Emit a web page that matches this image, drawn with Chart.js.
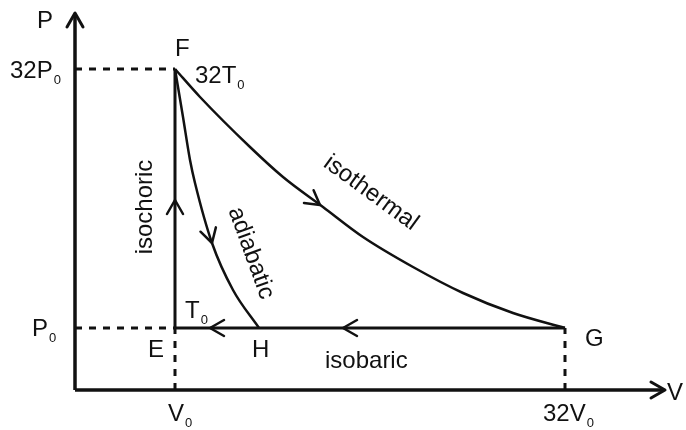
<!DOCTYPE html>
<html lang="en">
  <head>
    <meta charset="UTF-8" />
    <title>Ciclo P-V</title>
    <style>
      html, body { margin: 0; padding: 0; background: #fff; }
      canvas { display: block; }
    </style>
  </head>

  <body>
    <canvas id="pv-chart" width="686" height="430"></canvas>
    <script src="https://cdn.jsdelivr.net/npm/chart.js"></script>

    <script>
      // diagram units, counted from the corner of the axes
      const isochoricV = [100, 100]
      const isochoricP = [62, 321]
      const isothermalV = [100, 125, 175, 208, 248, 288, 338, 388, 438, 490]
      const isothermalP = [321, 293, 243, 213, 183, 153, 123, 97, 77, 62]
      const adiabaticV = [100, 108, 115, 120, 137, 158, 184]
      const adiabaticP = [321, 273, 230, 207, 147, 100, 62]
      const isobaricV = [490, 184, 100]
      const isobaricP = [62, 62, 62]

      const vTickValues = [100, 490]
      const vTickLabels = ['V', '32V']
      const pTickValues = [321, 62]
      const pTickLabels = ['32P', 'P']

      const pointNames = ['F', 'E', 'H', 'G']
      const pointV = [100, 100, 184, 490]
      const pointP = [321, 62, 62, 62]

      const toPts = (xs, ys) => xs.map((x, i) => ({ x: x, y: ys[i] }))
      const ink = '#111'
      const font = (size) => size + 'px "Liberation Sans", Arial, sans-serif'

      const line = (pts, opts) => Object.assign({
        data: pts,
        showLine: true,
        borderColor: ink,
        borderWidth: 3,
        pointRadius: 0,
        fill: false,
      }, opts)

      const chevron = (ctx, x, y, dx, dy) => {
        const len = Math.hypot(dx, dy)
        const ux = dx / len, uy = dy / len
        const back = 14, side = 8
        ctx.beginPath()
        ctx.moveTo(x - ux * back - uy * side, y - uy * back + ux * side)
        ctx.lineTo(x, y)
        ctx.lineTo(x - ux * back + uy * side, y - uy * back - ux * side)
        ctx.stroke()
      }

      const label = (ctx, x, y, main, sub) => {
        ctx.font = font(24)
        ctx.fillText(main, x, y)
        if (sub) {
          const w = ctx.measureText(main).width
          ctx.font = font(13)
          ctx.fillText(sub, x + w + 1, y + 6)
        }
      }

      const diagram = {
        id: 'diagram',
        afterDatasetsDraw(chart) {
          const { ctx } = chart
          const sx = chart.scales.x, sy = chart.scales.y
          const X = (v) => sx.getPixelForValue(v)
          const Y = (p) => sy.getPixelForValue(p)
          ctx.save()
          ctx.strokeStyle = ink
          ctx.fillStyle = ink
          ctx.lineCap = 'round'
          ctx.lineJoin = 'round'

          // axis arrowheads
          ctx.lineWidth = 3
          chevron(ctx, X(0), Y(377), 0, -1)
          chevron(ctx, X(590), Y(0), 1, 0)

          // direction arrows on the cycle
          ctx.lineWidth = 2.5
          chevron(ctx, X(100), Y(190), 0, -1)
          chevron(ctx, X(245), Y(185), 1, 0.75)
          chevron(ctx, X(137), Y(147), 17, 60)
          chevron(ctx, X(268), Y(62), -1, 0)
          chevron(ctx, X(135), Y(62), -1, 0)

          ctx.textAlign = 'left'
          ctx.textBaseline = 'alphabetic'
          label(ctx, X(-38), Y(362), 'P')
          label(ctx, X(592), Y(-10), 'V')
          label(ctx, X(-65), Y(pTickValues[0] - 9), pTickLabels[0], '0')
          label(ctx, X(-43), Y(pTickValues[1] - 8), pTickLabels[1], '0')
          label(ctx, X(vTickValues[0] - 7), Y(-31), vTickLabels[0], '0')
          label(ctx, X(vTickValues[1] - 22), Y(-31), vTickLabels[1], '0')

          label(ctx, X(pointV[0]), Y(pointP[0] + 13), pointNames[0])
          label(ctx, X(pointV[1] - 27), Y(pointP[1] - 29), pointNames[1])
          label(ctx, X(pointV[2] - 7), Y(pointP[2] - 29), pointNames[2])
          label(ctx, X(pointV[3] + 20), Y(pointP[3] - 18), pointNames[3])
          label(ctx, X(120), Y(307), '32T', '0')
          label(ctx, X(110), Y(72), 'T', '0')
          label(ctx, X(250), Y(22), 'isobaric')

          const rotated = (text, v, p, deg) => {
            ctx.save()
            ctx.translate(X(v), Y(p))
            ctx.rotate(deg * Math.PI / 180)
            ctx.textAlign = 'center'
            ctx.textBaseline = 'middle'
            ctx.font = font(24)
            ctx.fillText(text, 0, 0)
            ctx.restore()
          }
          rotated('isochoric', 70, 183, -90)
          rotated('isothermal', 296, 197, 36)
          rotated('adiabatic', 176, 137, 70)
          ctx.restore()
        },
      }

      new Chart(document.getElementById('pv-chart'), {
        type: 'scatter',
        data: {
          datasets: [
            // axes
            line([{ x: 0, y: 0 }, { x: 0, y: 376 }], { borderWidth: 3.5 }),
            line([{ x: 0, y: 0 }, { x: 589, y: 0 }], { borderWidth: 3.5 }),
            // guide lines
            line([{ x: 0, y: pTickValues[0] }, { x: vTickValues[0], y: pTickValues[0] }], { borderDash: [7, 7] }),
            line([{ x: 0, y: pTickValues[1] }, { x: vTickValues[0], y: pTickValues[1] }], { borderDash: [7, 7] }),
            line([{ x: vTickValues[0], y: 0 }, { x: vTickValues[0], y: pTickValues[1] }], { borderDash: [7, 7] }),
            line([{ x: vTickValues[1], y: 0 }, { x: vTickValues[1], y: pTickValues[1] }], { borderDash: [7, 7] }),
            // cycle
            line(toPts(isochoricV, isochoricP), { borderWidth: 3 }),
            line(toPts(isobaricV, isobaricP), { borderWidth: 3 }),
            line(toPts(isothermalV, isothermalP), { borderWidth: 2.5, cubicInterpolationMode: 'monotone' }),
            line(toPts(adiabaticV, adiabaticP), { borderWidth: 2.5, cubicInterpolationMode: 'monotone' }),
          ],
        },
        options: {
          responsive: false,
          animation: false,
          devicePixelRatio: 1,
          layout: { padding: 0 },
          plugins: { legend: { display: false }, tooltip: { enabled: false } },
          scales: {
            x: { type: 'linear', min: -75, max: 611, display: false },
            y: { type: 'linear', min: -40, max: 390, display: false },
          },
        },
        plugins: [diagram],
      })
    </script>
  </body>
</html>
